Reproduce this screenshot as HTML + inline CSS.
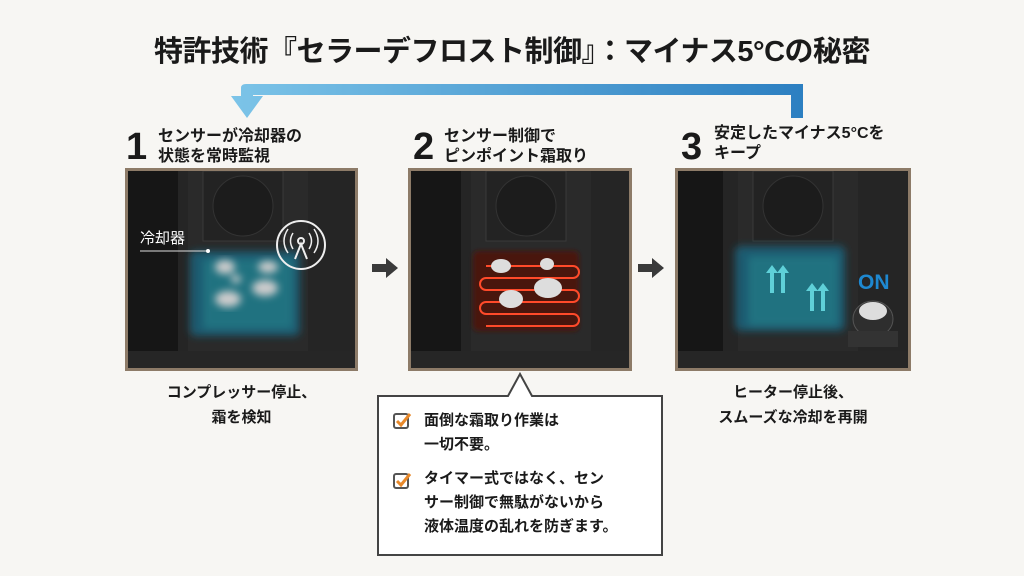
<!DOCTYPE html>
<html><head><meta charset="utf-8"><style>
*{margin:0;padding:0;box-sizing:border-box}
body{width:1024px;height:576px;background:#f7f6f3;position:relative;overflow:hidden;font-family:"Liberation Sans","Noto Sans CJK JP",sans-serif;color:#1a1a1a;font-weight:bold}
.abs{position:absolute}
.title{left:0;width:1024px;top:28px;text-align:center;font-size:29px;letter-spacing:-0.5px}
.num{font-size:38px;line-height:38px}
.hd{font-size:16px;line-height:20px}
.panel{border:3px solid #8d7b68;background:#1e1e1e;overflow:hidden}
.cap{font-size:15px;line-height:25px;text-align:center}
.box{left:377px;top:396px;width:286px;height:160px;border:2px solid #444;border-top:none;background:#fff}
.item{font-size:15px;line-height:24px}
</style></head><body>
<div class="abs title">特許技術『セラーデフロスト制御』：マイナス5°Cの秘密</div>

<div class="abs box"></div>

<svg class="abs" style="left:0;top:0" width="1024" height="576">
<defs><linearGradient id="bg" x1="0" x2="1"><stop offset="0" stop-color="#7cc4e8"/><stop offset="1" stop-color="#2c7fc1"/></linearGradient>
<filter id="bl"><feGaussianBlur stdDeviation="3"/></filter></defs>
<path d="M247 118 L231 96 L241 96 L241 88 Q241 84 246 84 L803 84 L803 118 L791 118 L791 95 L253 95 L253 96 L263 96 Z" fill="url(#bg)"/>
<path d="M372 264 h14 v-6 l12 10 l-12 10 v-6 h-14z" fill="#3a3a3a"/>
<path d="M638 264 h14 v-6 l12 10 l-12 10 v-6 h-14z" fill="#3a3a3a"/>
<path d="M377 396 L508 396 L520 374 L532 396 L663 396" fill="#fff" stroke="#444" stroke-width="2"/>
</svg>

<div class="abs num" style="left:126px;top:128px">1</div>
<div class="abs hd" style="left:158px;top:127px">センサーが冷却器の<br>状態を常時監視</div>
<div class="abs num" style="left:413px;top:128px">2</div>
<div class="abs hd" style="left:444px;top:127px">センサー制御で<br>ピンポイント霜取り</div>
<div class="abs num" style="left:681px;top:128px">3</div>
<div class="abs hd" style="left:714px;top:124px">安定したマイナス5°Cを<br>キープ</div>

<!-- panel 1 -->
<div class="abs panel" style="left:125px;top:168px;width:233px;height:203px">
<svg width="227" height="197">
<defs><filter id="b1"><feGaussianBlur stdDeviation="4"/></filter></defs>
<rect x="0" y="0" width="227" height="197" fill="#252525"/>
<rect x="0" y="0" width="50" height="197" fill="#161616"/>
<rect x="60" y="0" width="120" height="197" fill="#2a2a2a"/>
<rect x="75" y="0" width="80" height="70" fill="#232323" stroke="#3a3a3a"/>
<circle cx="115" cy="35" r="30" fill="#1c1c1c" stroke="#333"/>
<rect x="62" y="80" width="110" height="85" rx="6" fill="#1a5a70" filter="url(#b1)"/>
<rect x="75" y="88" width="90" height="70" fill="#2aa0a0" opacity=".35" filter="url(#b1)"/>
<g filter="url(#b1)" fill="#ccc"><ellipse cx="97" cy="96" rx="10" ry="7"/><ellipse cx="140" cy="96" rx="10" ry="6"/>
<ellipse cx="137" cy="117" rx="13" ry="8"/><ellipse cx="100" cy="128" rx="13" ry="8"/>
<ellipse cx="108" cy="108" rx="5" ry="4"/></g>
<line x1="12" y1="80" x2="80" y2="80" stroke="#ddd" stroke-width="1"/><circle cx="80" cy="80" r="2" fill="#fff"/>
<text x="12" y="72" fill="#fff" font-size="15" font-weight="normal" font-family="Liberation Sans,Noto Sans CJK JP,sans-serif">冷却器</text>
<circle cx="173" cy="74" r="24" fill="none" stroke="#eee" stroke-width="2"/>
<circle cx="173" cy="70" r="3" fill="none" stroke="#eee" stroke-width="2"/>
<path d="M167 88 L173 73 L179 88" fill="none" stroke="#eee" stroke-width="2"/>
<path d="M165 62 q-5 8 0 16 M181 62 q5 8 0 16 M160 58 q-8 12 0 24 M186 58 q8 12 0 24" fill="none" stroke="#eee" stroke-width="1.5"/>
<rect x="0" y="180" width="227" height="17" fill="#262626"/>
</svg></div>

<!-- panel 2 -->
<div class="abs panel" style="left:408px;top:168px;width:224px;height:203px">
<svg width="218" height="197">
<defs><filter id="b2"><feGaussianBlur stdDeviation="2"/></filter></defs>
<rect x="0" y="0" width="218" height="197" fill="#252525"/>
<rect x="0" y="0" width="50" height="197" fill="#161616"/>
<rect x="60" y="0" width="120" height="197" fill="#2a2a2a"/>
<rect x="75" y="0" width="80" height="70" fill="#232323" stroke="#3a3a3a"/>
<circle cx="115" cy="35" r="30" fill="#1c1c1c" stroke="#333"/>
<rect x="62" y="80" width="106" height="80" rx="5" fill="#4a1810" filter="url(#b2)"/>
<path d="M75 95 H162 a6 6 0 0 1 0 12 H75 a6 6 0 0 0 0 12 H162 a6 6 0 0 1 0 12 H75 a6 6 0 0 0 0 12 H162 a6 6 0 0 1 0 12 H75" fill="none" stroke="#ff4a2a" stroke-width="2"/>
<g fill="#ddd"><ellipse cx="90" cy="95" rx="10" ry="7"/><ellipse cx="136" cy="93" rx="7" ry="6"/>
<ellipse cx="137" cy="117" rx="14" ry="10"/><ellipse cx="100" cy="128" rx="12" ry="9"/></g>
<rect x="0" y="180" width="218" height="17" fill="#262626"/>
</svg></div>

<!-- panel 3 -->
<div class="abs panel" style="left:675px;top:168px;width:236px;height:203px">
<svg width="230" height="197">
<defs><filter id="b3"><feGaussianBlur stdDeviation="4"/></filter></defs>
<rect x="0" y="0" width="230" height="197" fill="#252525"/>
<rect x="0" y="0" width="45" height="197" fill="#161616"/>
<rect x="60" y="0" width="120" height="197" fill="#2a2a2a"/>
<rect x="75" y="0" width="80" height="70" fill="#232323" stroke="#3a3a3a"/>
<circle cx="115" cy="35" r="30" fill="#1c1c1c" stroke="#333"/>
<rect x="57" y="75" width="110" height="85" rx="6" fill="#1a5a70" filter="url(#b3)"/>
<rect x="70" y="85" width="90" height="70" fill="#2aa0a0" opacity=".35" filter="url(#b3)"/>
<path d="M92 122 v-20 h-4 l6-8 6 8 h-4 v20z M103 122 v-20 h-4 l6-8 6 8 h-4 v20z M132 140 v-20 h-4 l6-8 6 8 h-4 v20z M143 140 v-20 h-4 l6-8 6 8 h-4 v20z" fill="#5fd0d8"/>
<text x="180" y="118" fill="#1e88d0" font-size="21" font-weight="bold" font-family="Liberation Sans,sans-serif">ON</text>
<ellipse cx="195" cy="148" rx="20" ry="18" fill="#2e2e2e" stroke="#555"/>
<ellipse cx="195" cy="140" rx="14" ry="9" fill="#ddd"/>
<rect x="170" y="160" width="50" height="16" fill="#333"/>
<rect x="0" y="180" width="230" height="17" fill="#262626"/>
</svg></div>

<div class="abs cap" style="left:125px;width:233px;top:380px">コンプレッサー停止、<br>霜を検知</div>
<div class="abs cap" style="left:675px;width:236px;top:380px">ヒーター停止後、<br>スムーズな冷却を再開</div>

<svg class="abs" style="left:392px;top:411px" width="22" height="22"><rect x="2" y="3" width="14" height="14" rx="2" fill="none" stroke="#555" stroke-width="2"/><path d="M5 10 l4 4 l9-11" fill="none" stroke="#e8892b" stroke-width="3"/></svg>
<div class="abs item" style="left:424px;top:409px">面倒な霜取り作業は<br>一切不要。</div>
<svg class="abs" style="left:392px;top:471px" width="22" height="22"><rect x="2" y="3" width="14" height="14" rx="2" fill="none" stroke="#555" stroke-width="2"/><path d="M5 10 l4 4 l9-11" fill="none" stroke="#e8892b" stroke-width="3"/></svg>
<div class="abs item" style="left:424px;top:467px">タイマー式ではなく、セン<br>サー制御で無駄がないから<br>液体温度の乱れを防ぎます。</div>
</body></html>
